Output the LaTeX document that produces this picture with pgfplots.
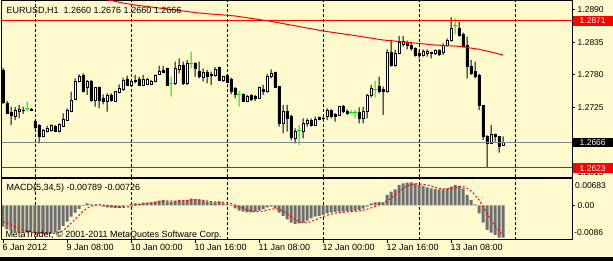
\documentclass[border=0pt]{standalone}
\usepackage{pgfplots}
\pgfplotsset{compat=1.18}
\usepackage{pgfplotstable}
\usepackage{fontspec}
\setmainfont{Liberation Sans}
\definecolor{bgyel}{RGB}{255,250,205}
\definecolor{mtred}{RGB}{255,0,0}
\definecolor{mtgreen}{RGB}{0,230,0}
\definecolor{bidgray}{RGB}{119,136,153}
\definecolor{histgray}{RGB}{110,110,110}
\newcommand\lblfont{\fontsize{8.5}{10}\selectfont}
\newcommand\txtfont{\fontsize{9}{10}\selectfont}
\tikzset{gridstyle/.style={black, line width=0.8pt, dash pattern=on 3pt off 2pt}}

% bullish (white) candles
\pgfplotstableread{
h O H L C
-5 1.27104 1.27256 1.27036 1.27205
-4 1.27188 1.27290 1.27070 1.27222
2 1.26766 1.26884 1.26754 1.26867
3 1.26850 1.26940 1.26828 1.26901
4 1.26867 1.26963 1.26838 1.26951
6 1.26838 1.26980 1.26828 1.26963
7 1.26923 1.27149 1.26915 1.27053
8 1.27036 1.27234 1.27019 1.27205
9 1.27176 1.27515 1.27170 1.27374
10 1.27391 1.27742 1.27374 1.27696
11 1.27684 1.27809 1.27674 1.27769
13 1.27583 1.27713 1.27459 1.27684
15 1.27374 1.27595 1.27261 1.27590
18 1.27345 1.27488 1.27176 1.27447
20 1.27357 1.27527 1.27345 1.27515
21 1.27505 1.27640 1.27488 1.27573
22 1.27556 1.27752 1.27527 1.27713
24 1.27617 1.27713 1.27600 1.27696
25 1.27696 1.27798 1.27657 1.27713
27 1.27629 1.27798 1.27617 1.27730
28 1.27640 1.27747 1.27629 1.27730
29 1.27642 1.27713 1.27634 1.27684
30 1.27684 1.27809 1.27674 1.27798
31 1.27809 1.27955 1.27798 1.27853
35 1.27657 1.28022 1.27629 1.27911
36 1.27894 1.28080 1.27826 1.27967
38 1.27657 1.28051 1.27629 1.27995
42 1.27759 1.27911 1.27684 1.27836
45 1.27786 1.27928 1.27769 1.27899
47 1.27701 1.27781 1.27679 1.27769
53 1.27356 1.27459 1.27345 1.27430
56 1.27403 1.27600 1.27391 1.27583
58 1.27515 1.27814 1.27498 1.27781
59 1.27769 1.27894 1.27742 1.27826
62 1.26980 1.27290 1.26811 1.27188
65 1.26727 1.26896 1.26642 1.26838
67 1.26838 1.27065 1.26727 1.26980
68 1.26980 1.27065 1.26923 1.27036
70 1.26951 1.27092 1.26939 1.27048
73 1.27092 1.27234 1.27036 1.27205
76 1.27121 1.27273 1.27104 1.27261
82 1.27065 1.27261 1.26980 1.27176
83 1.27176 1.27476 1.27065 1.27459
84 1.27459 1.27629 1.27420 1.27573
88 1.27515 1.28232 1.27498 1.28174
90 1.27967 1.28220 1.27938 1.28164
91 1.28164 1.28457 1.28147 1.28350
92 1.28316 1.28457 1.28276 1.28360
97 1.28136 1.28232 1.28107 1.28191
98 1.28164 1.28232 1.28107 1.28191
100 1.28164 1.28232 1.28136 1.28208
102 1.28174 1.28333 1.28136 1.28304
103 1.28304 1.28418 1.28276 1.28389
104 1.28389 1.28773 1.28360 1.28587
114 1.26642 1.26951 1.26630 1.26794
117 1.26600 1.26760 1.26600 1.26660
}\bull

% bearish (black) candles
\pgfplotstableread{
h O H L C
-8 1.27882 1.27916 1.27307 1.27341
-7 1.27323 1.27357 1.27138 1.27154
-6 1.27171 1.27256 1.26951 1.27120
-3 1.27205 1.27256 1.27138 1.27197
-1 1.27222 1.27239 1.27188 1.27205
0 1.27007 1.27036 1.26884 1.26906
1 1.26940 1.26968 1.26642 1.26754
5 1.26923 1.26951 1.26838 1.26850
12 1.27786 1.27826 1.27505 1.27515
14 1.27684 1.27713 1.27345 1.27374
16 1.27590 1.27600 1.27234 1.27374
17 1.27403 1.27471 1.27301 1.27345
19 1.27459 1.27488 1.27345 1.27374
23 1.27730 1.27786 1.27617 1.27629
26 1.27730 1.27769 1.27617 1.27629
32 1.27870 1.27950 1.27826 1.27843
33 1.27911 1.27921 1.27617 1.27629
37 1.27967 1.28022 1.27629 1.27657
40 1.27995 1.28012 1.27769 1.27911
41 1.27853 1.28022 1.27742 1.27769
43 1.27836 1.27882 1.27657 1.27781
44 1.27809 1.27853 1.27629 1.27786
46 1.27921 1.27938 1.27701 1.27713
48 1.27786 1.27809 1.27667 1.27674
49 1.27730 1.27752 1.27471 1.27515
50 1.27573 1.27590 1.27403 1.27476
52 1.27471 1.27488 1.27345 1.27357
54 1.27447 1.27471 1.27356 1.27391
55 1.27430 1.27459 1.27356 1.27403
57 1.27556 1.27629 1.27459 1.27515
60 1.27836 1.27853 1.27573 1.27590
61 1.27600 1.27612 1.26923 1.26980
63 1.27188 1.27290 1.26838 1.27065
64 1.27104 1.27121 1.26698 1.26744
69 1.27024 1.27065 1.26923 1.26951
71 1.27075 1.27092 1.27036 1.27048
72 1.27070 1.27092 1.27036 1.27060
74 1.27205 1.27217 1.27065 1.27092
75 1.27138 1.27149 1.27007 1.27104
77 1.27273 1.27290 1.27149 1.27176
78 1.27176 1.27217 1.27121 1.27149
81 1.27159 1.27251 1.26980 1.27065
86 1.27612 1.27769 1.27488 1.27515
87 1.27556 1.27600 1.27121 1.27515
89 1.28174 1.28389 1.27938 1.27967
93 1.28350 1.28377 1.28232 1.28305
94 1.28304 1.28360 1.28208 1.28249
95 1.28249 1.28266 1.28107 1.28136
96 1.28164 1.28220 1.28080 1.28124
99 1.28180 1.28191 1.28080 1.28170
101 1.28208 1.28232 1.28119 1.28152
106 1.28587 1.28698 1.28445 1.28474
107 1.28490 1.28512 1.28266 1.28276
108 1.28304 1.28445 1.27742 1.27949
109 1.27949 1.28051 1.27798 1.27826
110 1.27853 1.28022 1.27742 1.27781
111 1.27798 1.27814 1.27205 1.27278
112 1.27278 1.27290 1.26698 1.26754
113 1.26766 1.26775 1.26230 1.26642
115 1.26795 1.26806 1.26669 1.26766
116 1.26754 1.26766 1.26483 1.26597
}\bear

% doji candles (drawn green)
\pgfplotstableread{
h O H L
-2 1.27234 1.27345 1.27188
34 1.27657 1.27769 1.27430
39 1.27995 1.28191 1.27911
51 1.27471 1.27527 1.27261
66 1.26867 1.26951 1.26614
79 1.27171 1.27205 1.27138
80 1.27159 1.27205 1.27065
85 1.27556 1.27696 1.27420
105 1.28626 1.28756 1.28490
}\doji

% moving average
\pgfplotstableread{
h v
10 1.29150
19 1.29057
22 1.29014
25 1.28980
30 1.28938
35 1.28896
41 1.28845
50 1.28795
58 1.28715
66 1.28617
72 1.28541
79 1.28473
87 1.28389
94 1.28343
100 1.28304
106 1.28282
111 1.28232
114 1.28186
117 1.28135
}\ma

% MACD main (histogram) and signal
\pgfplotstableread{
h m s
-8 -0.00520 -0.00398
-7 -0.00585 -0.00438
-6 -0.00625 -0.00479
-5 -0.00650 -0.00520
-4 -0.00658 -0.00560
-3 -0.00666 -0.00601
-2 -0.00666 -0.00625
-1 -0.00658 -0.00641
0 -0.00674 -0.00650
1 -0.00698 -0.00658
2 -0.00698 -0.00666
3 -0.00690 -0.00674
4 -0.00682 -0.00682
5 -0.00666 -0.00682
6 -0.00601 -0.00666
7 -0.00503 -0.00617
8 -0.00398 -0.00536
9 -0.00276 -0.00438
10 -0.00179 -0.00341
11 -0.00089 -0.00244
12 -0.00016 -0.00146
13 0.00049 -0.00073
14 0.00024 -0.00024
15 0.00016 0.00000
16 0.00008 0.00016
17 -0.00032 0.00008
18 -0.00049 0.00000
19 -0.00057 -0.00016
20 -0.00065 -0.00032
21 -0.00065 -0.00049
22 -0.00049 -0.00049
23 0.00005 -0.00041
24 0.00032 -0.00024
25 0.00049 0.00000
26 0.00041 0.00016
27 0.00065 0.00032
28 0.00065 0.00049
29 0.00073 0.00057
30 0.00089 0.00065
31 0.00114 0.00081
32 0.00130 0.00097
33 0.00097 0.00106
34 0.00081 0.00106
35 0.00106 0.00097
36 0.00130 0.00106
37 0.00106 0.00114
38 0.00130 0.00114
39 0.00162 0.00122
40 0.00154 0.00130
41 0.00146 0.00130
42 0.00114 0.00122
43 0.00089 0.00106
44 0.00073 0.00089
45 0.00073 0.00081
46 0.00089 0.00081
47 0.00049 0.00073
48 0.00024 0.00057
49 -0.00016 0.00041
50 -0.00073 0.00008
51 -0.00130 -0.00032
52 -0.00154 -0.00073
53 -0.00171 -0.00114
54 -0.00171 -0.00138
55 -0.00154 -0.00154
56 -0.00130 -0.00154
57 -0.00097 -0.00146
58 -0.00049 -0.00122
59 -0.00032 -0.00097
60 -0.00073 -0.00081
61 -0.00179 -0.00097
62 -0.00260 -0.00138
63 -0.00341 -0.00195
64 -0.00422 -0.00276
65 -0.00455 -0.00341
66 -0.00438 -0.00398
67 -0.00422 -0.00422
68 -0.00374 -0.00422
69 -0.00317 -0.00398
70 -0.00276 -0.00357
71 -0.00260 -0.00317
72 -0.00235 -0.00276
73 -0.00195 -0.00244
74 -0.00179 -0.00219
75 -0.00162 -0.00195
76 -0.00154 -0.00179
77 -0.00154 -0.00171
78 -0.00146 -0.00162
79 -0.00146 -0.00154
80 -0.00130 -0.00146
81 -0.00114 -0.00138
82 -0.00081 -0.00122
83 -0.00032 -0.00097
84 0.00049 -0.00065
85 0.00073 -0.00032
86 0.00081 0.00016
87 0.00073 0.00049
88 0.00252 0.00114
89 0.00333 0.00171
90 0.00390 0.00252
91 0.00495 0.00333
92 0.00536 0.00406
93 0.00552 0.00471
94 0.00560 0.00503
95 0.00536 0.00520
96 0.00495 0.00520
97 0.00471 0.00512
98 0.00438 0.00495
99 0.00414 0.00471
100 0.00398 0.00438
101 0.00390 0.00414
102 0.00390 0.00398
103 0.00414 0.00398
104 0.00455 0.00414
105 0.00495 0.00430
106 0.00471 0.00455
107 0.00414 0.00455
108 0.00252 0.00414
109 0.00130 0.00349
110 0.00024 0.00252
111 -0.00195 0.00130
112 -0.00422 -0.00032
113 -0.00601 -0.00195
114 -0.00666 -0.00357
115 -0.00723 -0.00503
116 -0.00788 -0.00625
117 -0.00789 -0.00726
}\macd

\pgfplotsset{
  mainpos/.style={at={(2pt,83.7pt)}, anchor=south west, scale only axis,
    width=570pt, height=176.8pt, xmin=-8.25, xmax=134.25,
    ymin=1.260676, ymax=1.290566},
  ovl/.style={mainpos, hide axis},
}

\begin{document}
\begin{tikzpicture}
\useasboundingbox (0,0) rectangle (613pt,261pt);
\fill[bgyel] (0,0) rectangle (613pt,261pt);
\fill[black] (0,0) rectangle (613pt,3.7pt);

% ---- main panel frame, grid, price ticks
\begin{axis}[mainpos,
  axis line style={black, line width=1pt},
  xtick={0,24,48,72,96,120}, xticklabels={},
  xtick style={draw=none},
  xmajorgrids, major x grid style={gridstyle},
  ytick={1.2615,1.2670,1.2725,1.2780,1.2835,1.2890},
  yticklabels={1.2615,,1.2725,1.2780,1.2835,1.2890},
  ytick pos=right, yticklabel pos=right, tick align=outside,
  major tick length=3pt, ytick style={black, line width=0.8pt},
  yticklabel style={font=\lblfont, inner sep=2.5pt},
  scaled x ticks=false, scaled y ticks=false,
]
\addplot[draw=none] coordinates {(0,1.27)};
\end{axis}

% ---- wicks
\begin{axis}[ovl, ybar stacked, bar width=1pt]
\addplot[draw=none, fill=none] table[x=h, y=L] {\bull};
\addplot[fill=black, draw=none] table[x=h, y expr=\thisrow{H}-\thisrow{L}] {\bull};
\end{axis}
\begin{axis}[ovl, ybar stacked, bar width=1pt]
\addplot[draw=none, fill=none] table[x=h, y=L] {\bear};
\addplot[fill=black, draw=none] table[x=h, y expr=\thisrow{H}-\thisrow{L}] {\bear};
\end{axis}
\begin{axis}[ovl, ybar stacked, bar width=1pt]
\addplot[draw=none, fill=none] table[x=h, y=L] {\doji};
\addplot[fill=mtgreen, draw=none] table[x=h, y expr=\thisrow{H}-\thisrow{L}] {\doji};
\end{axis}

% ---- bodies
\begin{axis}[ovl, ybar stacked, bar width=2.3pt]
\addplot[draw=none, fill=none] table[x=h, y=O] {\bull};
\addplot[fill=white, draw=black, line width=0.7pt] table[x=h, y expr=\thisrow{C}-\thisrow{O}] {\bull};
\end{axis}
\begin{axis}[ovl, ybar stacked, bar width=2.3pt]
\addplot[draw=none, fill=none] table[x=h, y=C] {\bear};
\addplot[fill=black, draw=black, line width=0.7pt] table[x=h, y expr=\thisrow{O}-\thisrow{C}] {\bear};
\end{axis}

% ---- lines on top
\begin{axis}[ovl]
\addplot[mtred, line width=1pt] coordinates {(-9,1.2871) (135,1.2871)};
\addplot[mtred, line width=1pt] coordinates {(-9,1.2623) (135,1.2623)};
\addplot[bidgray, line width=1pt] coordinates {(-9,1.2666) (135,1.2666)};
\addplot[mtred, line width=1pt] table[x=h, y=v] {\ma};
\addplot[only marks, mark=-, mark size=1.6pt, mtgreen, mark options={line width=1pt}] table[x=h, y=O] {\doji};
\end{axis}

% ---- MACD panel
\begin{axis}[at={(2pt,21pt)}, anchor=south west, scale only axis,
  width=570pt, height=61pt, xmin=-8.25, xmax=134.25,
  ymin=-0.008451, ymax=0.006405,
  axis line style={black, line width=1pt},
  xtick={-8,8,24,40,56,72,88,104},
  xticklabels={6 Jan 2012, 9 Jan 08:00, 10 Jan 00:00, 10 Jan 16:00, 11 Jan 08:00, 12 Jan 00:00, 12 Jan 16:00, 13 Jan 08:00},
  xtick pos=left, tick align=outside, major tick length=3pt,
  xticklabel style={anchor=north west, xshift=-1.5pt, font=\txtfont, inner sep=1pt},
  minor xtick={0,24,48,72,96,120}, xminorgrids, minor x grid style={gridstyle},
  minor tick length=0pt,
  ytick={0}, yticklabels={0.00}, ytick pos=right, yticklabel pos=right,
  yticklabel style={font=\lblfont, inner sep=2.5pt},
  tick style={black, line width=0.8pt},
  scaled x ticks=false, scaled y ticks=false,
]
\addplot[ybar, bar width=3pt, bar shift=0pt, fill=histgray, draw=none] table[x=h, y=m] {\macd};
\addplot[mtred, line width=1pt, dash pattern=on 2pt off 2pt, sharp plot] table[x=h, y=s] {\macd};
\end{axis}

% ---- texts
\node[anchor=west, inner sep=0pt, font=\txtfont] at (6.5pt,250pt) {EURUSD,H1\ \ 1.2660 1.2676 1.2660 1.2666};
\node[anchor=west, inner sep=0pt, font=\txtfont] at (6.5pt,73pt) {MACD(5,34,5) -0.00789 -0.00726};
\node[anchor=west, inner sep=0pt, font=\txtfont] at (5.3pt,26pt) {MetaTrader, © 2001-2011 MetaQuotes Software Corp.};
\node[anchor=west, inner sep=0pt, font=\lblfont] at (575pt,75.3pt) {0.00683};
\node[anchor=west, inner sep=0pt, font=\lblfont] at (574pt,28pt) {-0.0086};
\node[anchor=west, fill=mtred, text=white, minimum width=40pt, minimum height=10pt, inner sep=0pt, font=\lblfont] at (572.5pt,240pt) {1.2871};
\node[anchor=west, fill=black, text=white, minimum width=40pt, minimum height=9.5pt, inner sep=0pt, font=\lblfont] at (572.5pt,118.7pt) {1.2666};
\node[anchor=west, fill=mtred, text=white, minimum width=40pt, minimum height=10pt, inner sep=0pt, font=\lblfont] at (572.5pt,92.7pt) {1.2623};
\end{tikzpicture}
\end{document}
